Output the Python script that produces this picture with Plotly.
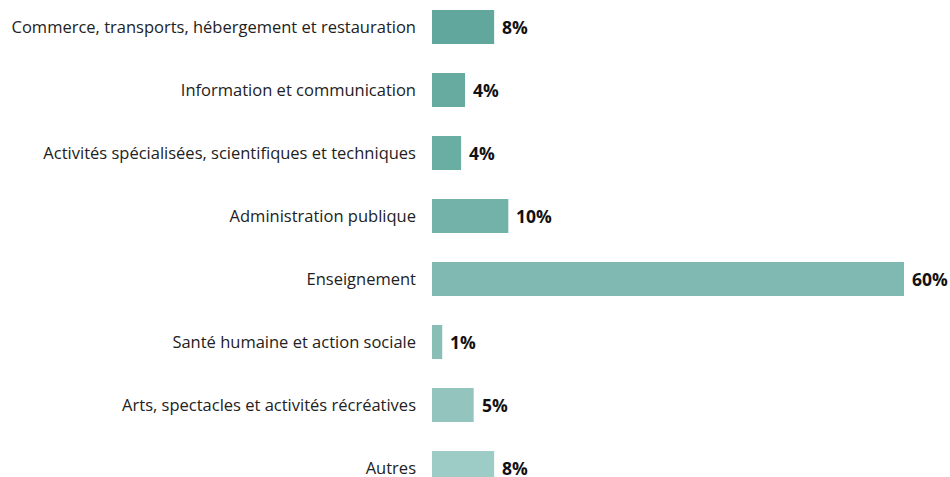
import plotly.graph_objects as go

# ── Data ──────────────────────────────────────────────────────────────────────
SECTEURS = [
    "Commerce, transports, hébergement et restauration",
    "Information et communication",
    "Activités spécialisées, scientifiques et techniques",
    "Administration publique",
    "Enseignement",
    "Santé humaine et action sociale",
    "Arts, spectacles et activités récréatives",
    "Autres",
]
PARTS = [7.9, 4.2, 3.7, 9.7, 60, 1.3, 5.3, 7.9]
LABELS = ["8%", "4%", "4%", "10%", "60%", "1%", "5%", "8%"]
COULEURS = ["#62a79d", "#66aaa0", "#6aada3", "#72b2a9", "#80b9b1",
            "#88beb6", "#93c5be", "#9dcbc5"]

FONT = "'Open Sans', sans-serif"

fig = go.Figure(go.Bar(
    x=PARTS, y=SECTEURS, orientation="h",
    marker=dict(color=COULEURS, line_width=0),
    width=0.54,
    hoverinfo="skip",
))

for val, sect, lab in zip(PARTS, SECTEURS, LABELS):
    fig.add_annotation(
        x=val, y=sect, text=f"<b>{lab}</b>", showarrow=False,
        xanchor="left", xshift=6,
        font=dict(family=FONT, size=17.5, color="#111111"),
    )

fig.update_layout(
    width=950, height=477,
    paper_bgcolor="white", plot_bgcolor="white",
    margin=dict(l=432, r=0, t=0, b=0, autoexpand=False),
    font=dict(family=FONT, size=16.5, color="#222222"),
    showlegend=False,
    xaxis=dict(range=[0, 60 * 518 / 472], visible=False, fixedrange=True),
    yaxis=dict(
        categoryorder="array", categoryarray=SECTEURS,
        range=[7.143, -0.4286], automargin=False, fixedrange=True,
        showgrid=False, zeroline=False, showline=False,
        ticks="", ticklabelstandoff=15,
        tickfont=dict(family=FONT, size=16.5, color="#222222"),
    ),
)

# page body margin off so the figure sits at the window's corner
fig.write_html(
    "out.html",
    config={"displayModeBar": False},
    post_script="document.body.style.margin='0';",
)
